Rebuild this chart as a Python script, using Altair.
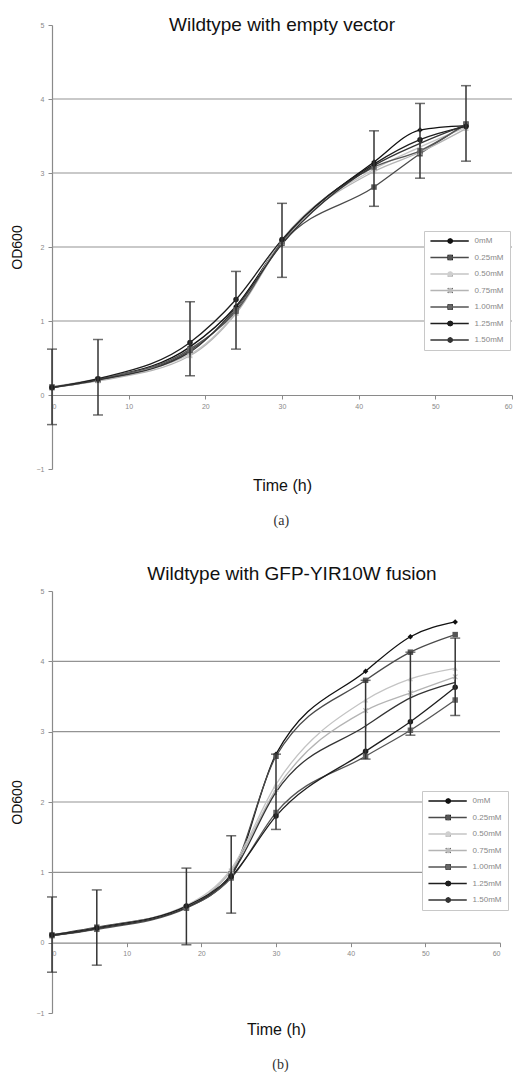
import altair as alt
import pandas as pd

# ---------------- data ----------------
times = [0, 6, 18, 24, 30, 42, 48, 54]
series = ["0mM", "0.25mM", "0.50mM", "0.75mM", "1.00mM", "1.25mM", "1.50mM"]

# (a) Wildtype with empty vector
a_0mM = [0.10, 0.21, 0.65, 1.20, 2.08, 3.15, 3.58, 3.64]
a_025mM = [0.10, 0.20, 0.60, 1.15, 2.05, 2.81, 3.26, 3.66]
a_050mM = [0.11, 0.22, 0.55, 1.12, 2.10, 3.05, 3.35, 3.62]
a_075mM = [0.10, 0.19, 0.53, 1.10, 2.06, 3.02, 3.28, 3.60]
a_100mM = [0.11, 0.21, 0.62, 1.13, 2.07, 3.08, 3.30, 3.66]
a_125mM = [0.10, 0.22, 0.71, 1.29, 2.10, 3.12, 3.45, 3.63]
a_150mM = [0.10, 0.20, 0.58, 1.18, 2.04, 3.10, 3.40, 3.65]
a_err_lo = [-0.40, -0.27, 0.26, 0.62, 1.59, 2.55, 2.93, 3.16]
a_err_hi = [0.62, 0.75, 1.26, 1.67, 2.59, 3.57, 3.94, 4.18]

# (b) Wildtype with GFP-YIR10W fusion
b_0mM = [0.10, 0.20, 0.52, 0.95, 2.68, 3.86, 4.35, 4.56]
b_025mM = [0.11, 0.22, 0.50, 0.98, 2.65, 3.73, 4.13, 4.38]
b_050mM = [0.10, 0.21, 0.53, 1.05, 2.25, 3.45, 3.75, 3.90]
b_075mM = [0.11, 0.20, 0.51, 1.02, 2.18, 3.30, 3.55, 3.78]
b_100mM = [0.10, 0.19, 0.49, 0.92, 1.85, 2.65, 3.02, 3.45]
b_125mM = [0.11, 0.21, 0.52, 0.94, 1.80, 2.72, 3.14, 3.63]
b_150mM = [0.10, 0.20, 0.50, 0.97, 2.14, 3.08, 3.48, 3.70]
b_err_lo = [-0.42, -0.32, -0.03, 0.42, 1.61, 2.61, 2.95, 3.23]
b_err_hi = [0.65, 0.75, 1.06, 1.52, 2.68, 3.73, 4.13, 4.33]

grid_values = [1, 2, 3, 4]
x_ticks = [0, 10, 20, 30, 40, 50, 60]
y_ticks = [-1, 0, 1, 2, 3, 4, 5]

line_colors = ["#111111", "#4a4a4a", "#c4c4c4", "#b4b4b4", "#555555", "#1e1e1e", "#333333"]
marker_colors = ["#111111", "#555555", "#cfcfcf", "#bdbdbd", "#666666", "#1e1e1e", "#333333"]
x_path = "M-1,-0.7L-0.7,-1L0,-0.3L0.7,-1L1,-0.7L0.3,0L1,0.7L0.7,1L0,0.3L-0.7,1L-1,0.7L-0.3,0Z"
bar_path = "M-0.22,-1H0.22V1H-0.22Z"
marker_shapes = ["diamond", "square", "triangle-up", x_path, "square", "circle", bar_path]
legend_line_path = "M-7,0H7"

SANS = "Liberation Sans"
SERIF = "Liberation Serif"


def panel(title, vals, lo, hi, w, h, lx, ly, ypad, xpad, toff, tdx):
    rows = []
    for s, arr in zip(series, vals):
        for t, v in zip(times, arr):
            rows.append({"t": t, "od": v, "series": s})
    df = pd.DataFrame(rows)
    err = pd.DataFrame({"t": times, "lo": lo, "hi": hi})
    grid = pd.DataFrame({"g": grid_values})

    xs = alt.Scale(domain=[0, 60], nice=False, zero=False)
    ys = alt.Scale(domain=[-1, 5], nice=False, zero=False)
    xaxis = alt.Axis(values=x_ticks, offset=-h / 6.0, title="Time (h)", grid=False,
                     domainColor="#8a8a8a", domainWidth=1.2, tickColor="#8a8a8a", tickSize=4,
                     labelFontSize=7, labelColor="#888888", labelPadding=3, labelFlush=True,
                     titleFont=SANS, titleFontSize=16, titleFontWeight="normal",
                     titleColor="#111111", titlePadding=xpad)
    yaxis = alt.Axis(values=y_ticks, title="OD600", grid=False,
                     domainColor="#8a8a8a", domainWidth=1.2, tickColor="#8a8a8a", tickSize=4,
                     labelFontSize=7, labelColor="#888888", labelPadding=4,
                     titleFont=SANS, titleFontSize=14, titleFontWeight="normal",
                     titleColor="#111111", titlePadding=ypad)

    def X(f):
        return alt.X(f, type="quantitative", scale=xs, axis=xaxis)

    def Y(f):
        return alt.Y(f, type="quantitative", scale=ys, axis=yaxis)

    gridlayer = alt.Chart(grid).mark_rule(color="#939393", strokeWidth=1.2).encode(y=Y("g"))

    common = dict(orient="none", legendX=lx, legendY=ly, title=None, symbolSize=30,
                  labelFontSize=8, labelFont=SANS, padding=6, rowPadding=8.5,
                  labelOffset=21)
    lines = alt.Chart(df).mark_line(interpolate="monotone", strokeWidth=1.3).encode(
        x=X("t"), y=Y("od"),
        color=alt.Color("series:N", sort=series,
                        scale=alt.Scale(domain=series, range=line_colors),
                        legend=alt.Legend(symbolType=legend_line_path, symbolStrokeWidth=1.3,
                                          symbolOffset=15.6, labelColor="#888888",
                                          fillColor="white", strokeColor="#c8c8c8",
                                          labelOpacity=1, zindex=0, **common)),
        detail="series:N",
    )

    mleg = alt.Legend(symbolStrokeWidth=0, symbolOffset=16.2, labelOpacity=0, zindex=1,
                      **common)
    points = alt.Chart(df).mark_point(filled=True, size=30, opacity=1).encode(
        x=X("t"), y=Y("od"),
        fill=alt.Fill("series:N", sort=series, scale=alt.Scale(range=marker_colors), legend=mleg),
        shape=alt.Shape("series:N", sort=series, scale=alt.Scale(range=marker_shapes), legend=mleg),
    )

    erule = alt.Chart(err).mark_rule(color="#333333", strokeWidth=1.5).encode(
        x=X("t"), y=Y("lo"), y2="hi")
    ecap_lo = alt.Chart(err).mark_tick(color="#333333", thickness=1.5, size=10,
                                       orient="horizontal").encode(x=X("t"), y=Y("lo"))
    ecap_hi = alt.Chart(err).mark_tick(color="#333333", thickness=1.5, size=10,
                                       orient="horizontal").encode(x=X("t"), y=Y("hi"))

    ch = alt.layer(gridlayer, lines, points, erule, ecap_lo, ecap_hi).properties(
        width=w, height=h,
        title=alt.Title(title, font=SANS, fontSize=19, fontWeight="normal", color="#111111",
                        anchor="middle", frame="group", offset=toff, dx=tdx),
    )
    return ch


chart_a = panel("Wildtype with empty vector",
                [a_0mM, a_025mM, a_050mM, a_075mM, a_100mM, a_125mM, a_150mM],
                a_err_lo, a_err_hi, 460, 444, 372, 206, 12, 68, -14, 0)
chart_b = panel("Wildtype with GFP-YIR10W fusion",
                [b_0mM, b_025mM, b_050mM, b_075mM, b_100mM, b_125mM, b_150mM],
                b_err_lo, b_err_hi, 448, 422, 370, 200, 12, 65, 3, 16)

cap_a = alt.vconcat(chart_a, title=alt.Title("(a)", orient="bottom", anchor="middle",
                                             font=SERIF, fontSize=14, fontWeight="normal",
                                             color="#333333", offset=21, dx=20))
cap_b = alt.vconcat(chart_b, title=alt.Title("(b)", orient="bottom", anchor="middle",
                                             font=SERIF, fontSize=14, fontWeight="normal",
                                             color="#333333", offset=20, dx=21))

chart = alt.vconcat(cap_a, cap_b, spacing=37).resolve_scale(
    color="independent", fill="independent", shape="independent"
).properties(padding={"left": 2, "top": 8, "right": 0, "bottom": 0}).configure_view(
    stroke=None
)

chart.save("out.html", embed_options={"renderer": "svg", "actions": False})
